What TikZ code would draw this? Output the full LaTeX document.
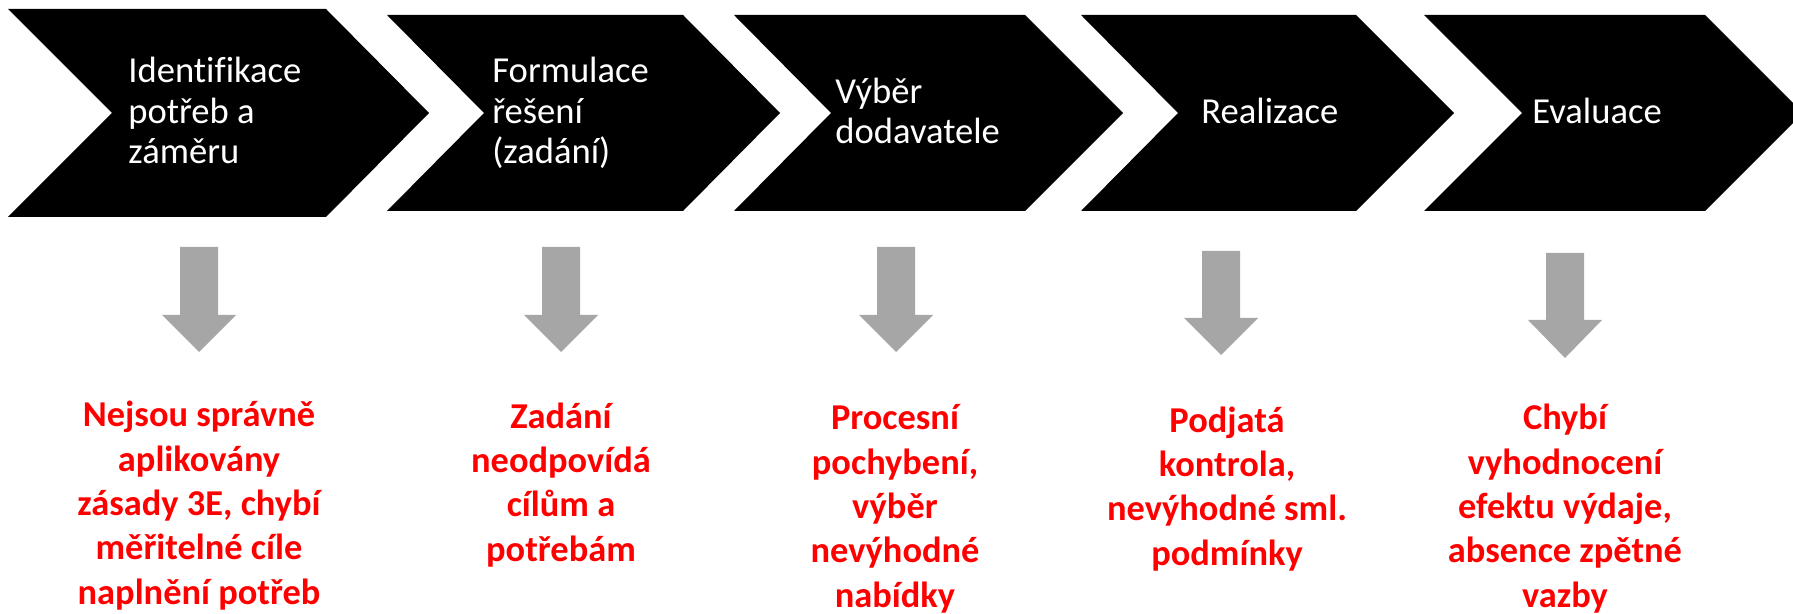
\documentclass[tikz,border=0pt]{standalone}
\usepackage{fontspec}
\setmainfont[Ligatures=NoCommon]{Carlito}
\definecolor{sipkagray}{RGB}{166,166,166}

\begin{document}
\begin{tikzpicture}[x=0.5pt, y=-0.5pt,
    krok/.style={anchor=base west, align=left, text=white, inner sep=0pt,
        font=\fontsize{18.3}{20.25}\selectfont},
    chyba/.style={anchor=base, align=center, text=red, inner sep=0pt,
        font=\fontsize{18.2}{22.15}\selectfont\bfseries},
    sipka/.style={fill=sipkagray}]
                \clip (0,0) rectangle (1793,614);
                % chevrony
                \fill[black] (8,9) -- (326,9) -- (429,113) -- (326,217) -- (8,217) -- (112,113) -- cycle;
                \fill[black] (387,15) -- (683,15) -- (780,113) -- (683,211) -- (387,211) -- (484,113) -- cycle;
                \fill[black] (734,15) -- (1025,15) -- (1123,113) -- (1025,211) -- (734,211) -- (831,113) -- cycle;
                \fill[black] (1081,15) -- (1356,15) -- (1454,113) -- (1356,211) -- (1081,211) -- (1178,113) -- cycle;
                \fill[black] (1424,15) -- (1705,15) -- (1803,113) -- (1705,211) -- (1424,211) -- (1522,113) -- cycle;
                % base = posledni radek
                \node[krok] (k1) at (128,164) {Identifikace\\potřeb a\\záměru};
                \node[krok] (k2) at (492,164) {Formulace\\řešení\\(zadání)};
                \node[krok] (k3) at (835,144) {Výběr\\dodavatele};
                \node[krok] (k4) at (1201,124) {Realizace};
                \node[krok] (k5) at (1532,124) {Evaluace};
                % sipky dolu
                \fill[sipka] (180,247) -- (218,247) -- (218,315) -- (236,315) -- (199,352) -- (162,315) -- (180,315) -- cycle;
                \fill[sipka] (542,247) -- (580,247) -- (580,315) -- (598,315) -- (561,352) -- (524,315) -- (542,315) -- cycle;
                \fill[sipka] (877,247) -- (915,247) -- (915,315) -- (933,315) -- (896,352) -- (859,315) -- (877,315) -- cycle;
                \fill[sipka] (1202,251) -- (1240,251) -- (1240,318) -- (1258,318) -- (1221,355) -- (1184,318) -- (1202,318) -- cycle;
                \fill[sipka] (1546,253) -- (1584,253) -- (1584,320) -- (1602,320) -- (1565,358) -- (1528,320) -- (1546,320) -- cycle;
                \node[chyba] (c1) at (199,604) {Nejsou správně\\aplikovány\\zásady 3E, chybí\\měřitelné cíle\\naplnění potřeb};
                \node[chyba] (c2) at (561,561) {Zadání\\neodpovídá\\cílům a\\potřebám};
                \node[chyba] (c3) at (895,607) {Procesní\\pochybení,\\výběr\\nevýhodné\\nabídky};
                \node[chyba] (c4) at (1227,565) {Podjatá\\kontrola,\\nevýhodné sml.\\podmínky};
                \node[chyba] (c5) at (1565,607) {Chybí\\vyhodnocení\\efektu výdaje,\\absence zpětné\\vazby};
            \end{tikzpicture}
\end{document}
